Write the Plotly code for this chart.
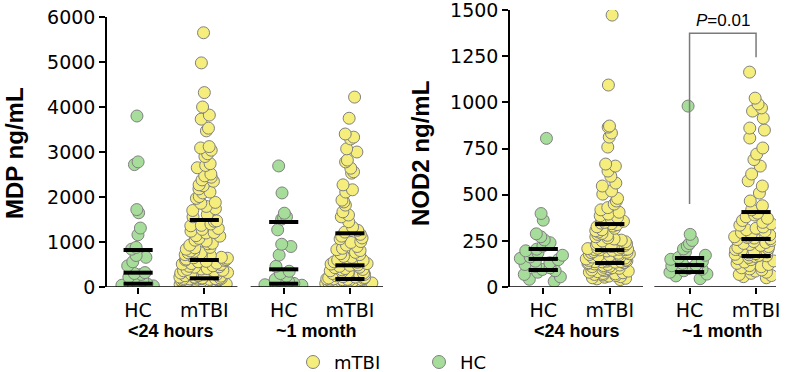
import plotly.graph_objects as go

# ---------------- data ----------------
groups = ["HC", "mTBI", "HC", "mTBI"]
time_labels = ["<24 hours", "~1 month"]
legend_labels = ["mTBI", "HC"]

mdp_hc_24h = [3800, 2780, 2720, 1720, 1650, 1310, 1160, 880, 840, 700, 660, 560, 470,
              320, 300, 280, 220, 180, 150, 90, 70, 60, 40, 25, 15, 5]
mdp_mtbi_24h = [5650, 4980, 4320, 4000, 3820, 3730, 3530, 3470, 3120, 3090, 3040, 2960, 2900,
                2740, 2700, 2650, 2510, 2470, 2440, 2380, 2350, 2270, 2250, 2180, 2110, 2090,
                2010, 1970, 1880, 1860, 1790, 1740, 1700, 1610, 1560, 1470, 1460, 1400, 1370,
                1360, 1300, 1280, 1240, 1210, 1200, 1140, 1130, 1080, 1040, 1020, 970, 960, 930,
                880, 870, 840, 800, 790, 760, 760, 720, 700, 700, 660, 650, 640, 620, 610, 600,
                590, 570, 560, 530, 520, 510, 500, 470, 460, 450, 440, 410, 400, 390, 370, 360,
                350, 320, 310, 300, 290, 290, 270, 250, 250, 240, 220, 220, 210, 200, 200, 190,
                190, 185, 185, 180, 175, 170, 160, 160, 150, 150, 140, 140, 130, 120, 120, 110,
                110, 100, 95, 90, 80, 80, 70, 65, 60, 55, 50, 45, 40, 35, 30, 25, 20, 20, 15, 10,
                10, 5, 5]
mdp_hc_1m = [2690, 2090, 1640, 1560, 1540, 1510, 1270, 950, 900, 710, 460, 350, 300, 240,
             170, 150, 120, 100, 80, 60, 50, 40, 25, 10]
mdp_mtbi_1m = [4220, 3750, 3400, 3330, 3290, 3070, 3000, 2820, 2780, 2640, 2560, 2530, 2270,
               2160, 2110, 1930, 1890, 1820, 1670, 1600, 1560, 1450, 1330, 1260, 1220, 1170,
               1130, 1090, 1070, 1010, 990, 930, 900, 860, 830, 810, 770, 740, 720, 680, 660,
               630, 600, 590, 560, 550, 520, 510, 490, 480, 460, 440, 430, 410, 390, 380, 360,
               340, 330, 310, 300, 280, 270, 260, 250, 230, 220, 210, 200, 190, 180, 180, 170,
               165, 162, 155, 150, 140, 130, 130, 120, 110, 100, 100, 90, 80, 75, 70, 60, 55,
               50, 40, 35, 30, 25, 20, 15, 10, 6, 3]

nod2_hc_24h = [805, 398, 362, 288, 272, 255, 240, 222, 205, 196, 185, 172, 163, 155, 148, 140,
               131, 122, 112, 104, 95, 88, 80, 68, 55, 42, 30]
nod2_mtbi_24h = [1473, 1094, 872, 866, 834, 812, 758, 666, 655, 628, 600, 563, 547, 520, 503,
                 480, 466, 449, 430, 418, 405, 395, 386, 378, 370, 362, 356, 350, 346, 343, 338,
                 330, 326, 318, 310, 305, 298, 290, 285, 280, 272, 266, 260, 254, 249, 245, 238,
                 234, 229, 225, 220, 217, 214, 210, 208, 205, 204, 203, 202, 201, 198, 195, 192,
                 188, 186, 183, 180, 176, 174, 171, 168, 165, 162, 160, 157, 155, 152, 150, 148,
                 146, 144, 142, 140, 138, 137, 136, 134, 133, 132, 131, 128, 125, 122, 119, 116,
                 112, 110, 107, 104, 101, 98, 95, 92, 89, 86, 83, 80, 77, 73, 71, 68, 65, 62, 59,
                 56, 53, 50, 47, 44, 40]
nod2_hc_1m = [980, 285, 252, 235, 222, 206, 190, 172, 160, 150, 138, 128, 120, 115, 108, 104,
              100, 96, 88, 80, 70, 60, 45]
nod2_mtbi_1m = [1164, 1023, 991, 970, 953, 915, 861, 850, 807, 753, 720, 690, 655, 612, 575,
                547, 509, 466, 440, 418, 400, 390, 380, 372, 360, 350, 342, 335, 325, 318, 310,
                302, 295, 288, 282, 276, 272, 268, 265, 262, 257, 252, 246, 241, 236, 230, 225,
                219, 214, 208, 203, 198, 193, 189, 185, 181, 177, 174, 171, 169, 165, 160, 154,
                148, 141, 135, 128, 122, 116, 110, 104, 98, 92, 86, 80, 74, 68, 62, 56, 50]

# median and interquartile lines
mdp_q1 = [73, 193, 73, 178]
mdp_med = [318, 600, 393, 482]
mdp_q3 = [822, 1489, 1444, 1193]
nod2_q1 = [92, 130, 81, 168]
nod2_med = [152, 200, 119, 260]
nod2_q3 = [206, 341, 157, 406]

mdp_ticks = [0, 1000, 2000, 3000, 4000, 5000, 6000]
nod2_ticks = [0, 250, 500, 750, 1000, 1250, 1500]

p_text = "<i>P</i>=0.01"
p_bracket = [449, 1375, 1245]  # left leg bottom, top, right leg bottom (ng/mL)

# ---------------- style / layout ----------------
YELLOW = "#F6EE7C"
GREEN = "#A7DD9A"
EDGE = "#808080"
pos = [0.0, 1.0, 2.2, 3.2]
colors = [GREEN, YELLOW, GREEN, YELLOW]
W, H = 790, 372


def px_x(p):
    return p / W


def px_y(p):
    return 1 - p / H


fig = go.Figure()

panels = [
    ("x", "y", [mdp_hc_24h, mdp_mtbi_24h, mdp_hc_1m, mdp_mtbi_1m], mdp_q1, mdp_med, mdp_q3),
    ("x2", "y2", [nod2_hc_24h, nod2_mtbi_24h, nod2_hc_1m, nod2_mtbi_1m], nod2_q1, nod2_med, nod2_q3),
]

for xa, ya, series, q1, med, q3 in panels:
    for i, vals in enumerate(series):
        fig.add_trace(go.Box(
            y=vals, x0=pos[i], xaxis=xa, yaxis=ya,
            boxpoints="all", jitter=1.0, pointpos=0, width=0.75,
            fillcolor="rgba(0,0,0,0)", line=dict(color="rgba(0,0,0,0)", width=0),
            whiskerwidth=0,
            marker=dict(color=colors[i], size=12, opacity=1,
                        line=dict(color=EDGE, width=1)),
            hoveron="points", showlegend=False,
        ))
    lx, ly = [], []
    for i in range(4):
        for v in (q1[i], med[i], q3[i]):
            lx += [pos[i] - 0.22, pos[i] + 0.22, None]
            ly += [v, v, None]
    fig.add_trace(go.Scatter(x=lx, y=ly, xaxis=xa, yaxis=ya, mode="lines",
                             line=dict(color="black", width=4), showlegend=False,
                             hoverinfo="skip", cliponaxis=False))

# legend: symbols as pixel-sized circle shapes, labels as annotations
leg_sym_px = [313, 439]
leg_y_px = 362
for p, lab, col in zip(leg_sym_px, legend_labels, [YELLOW, GREEN]):
    fig.add_shape(type="circle", xref="paper", yref="paper",
                  xsizemode="pixel", ysizemode="pixel",
                  xanchor=px_x(p), yanchor=px_y(leg_y_px),
                  x0=-6.5, x1=6.5, y0=-6.5, y1=6.5,
                  fillcolor=col, line=dict(color=EDGE, width=1))
    fig.add_annotation(x=px_x(p + 19), y=px_y(leg_y_px), xref="paper", yref="paper",
                       text=lab, showarrow=False, xanchor="left", yanchor="middle",
                       font=dict(family="DejaVu Sans", size=18, color="black"))

tick_font = dict(family="DejaVu Sans", size=19, color="black")
ydom = [px_y(287), px_y(17)]
ydom2 = [px_y(287), px_y(10)]

common_x = dict(tickmode="array", tickvals=pos, ticktext=groups, showline=False,
                showgrid=False, zeroline=False, ticks="outside", ticklen=6, tickwidth=1.5,
                tickcolor="black", tickfont=tick_font, automargin=False)
common_y = dict(showline=True, linewidth=1.5, linecolor="black", showgrid=False,
                zeroline=False, ticks="outside", ticklen=6, tickwidth=1.5, tickcolor="black",
                tickfont=tick_font, automargin=False, tickmode="array",
                ticklabeloverflow="allow")

fig.update_layout(
    width=W, height=H, margin=dict(l=0, r=0, t=0, b=0, autoexpand=False),
    paper_bgcolor="white", plot_bgcolor="white",
    xaxis=dict(domain=[px_x(107), px_x(383)], range=[-0.47, 3.7], anchor="y", **common_x),
    yaxis=dict(domain=ydom, range=[0, 6000], tickvals=mdp_ticks, anchor="x", **common_y),
    xaxis2=dict(domain=[px_x(510), px_x(776)], range=[-0.5, 3.5], anchor="y2", **common_x),
    yaxis2=dict(domain=ydom2, range=[0, 1500.5], tickvals=nod2_ticks, anchor="x2", **common_y),
    showlegend=False,
)

# broken x axis lines
for xr, yr, segs in [("x", "y", [(-0.47, 1.5), (1.7, 3.7)]),
                     ("x2", "y2", [(-0.5, 1.5), (1.67, 3.5)])]:
    for a, b in segs:
        fig.add_shape(type="line", xref=xr, yref=yr, x0=a, x1=b, y0=0, y1=0,
                      line=dict(color="black", width=1.5), layer="above")

# group (time) labels
grp_font = dict(family="Liberation Sans", size=18, color="black")
for xr in ("x", "x2"):
    for j, lab in enumerate(time_labels):
        fig.add_annotation(x=(pos[2 * j] + pos[2 * j + 1]) / 2, xref=xr, y=px_y(331),
                           yref="paper", text="<b>" + lab + "</b>", showarrow=False,
                           font=grp_font, xanchor="center", yanchor="middle")

# y titles
title_font = dict(family="Liberation Sans", size=24, color="black")
fig.add_annotation(x=px_x(14), y=px_y(153), xref="paper", yref="paper",
                   text="<b>MDP ng/mL</b>", textangle=-90, showarrow=False,
                   font=title_font, xanchor="center", yanchor="middle")
fig.add_annotation(x=px_x(420), y=px_y(153), xref="paper", yref="paper",
                   text="<b>NOD2 ng/mL</b>", textangle=-90, showarrow=False,
                   font=title_font, xanchor="center", yanchor="middle")

# significance bracket
fig.add_shape(type="path", xref="x2", yref="y2",
              path=f"M {pos[2]},{p_bracket[0]} L {pos[2]},{p_bracket[1]} "
                   f"L {pos[3]},{p_bracket[1]} L {pos[3]},{p_bracket[2]}",
              line=dict(color="#7a7a7a", width=1.5))
fig.add_annotation(x=(pos[2] + pos[3]) / 2, xref="x2", y=p_bracket[1], yref="y2",
                   text=p_text, showarrow=False, yanchor="bottom", yshift=1,
                   font=dict(family="Liberation Sans", size=17, color="black"))

fig.write_html("out.html")
